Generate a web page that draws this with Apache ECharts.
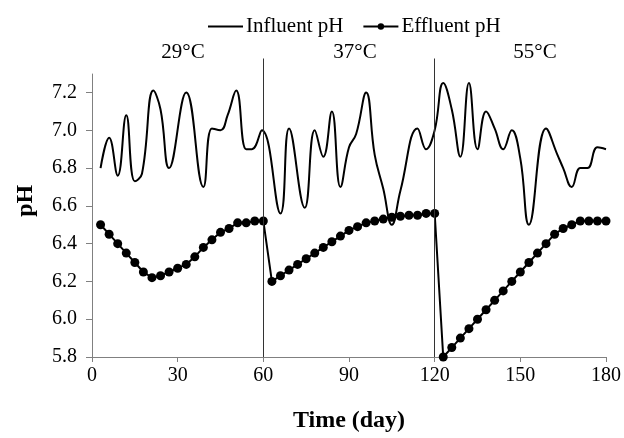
<!DOCTYPE html>
<html><head><meta charset="utf-8">
<script src="https://cdn.jsdelivr.net/npm/echarts@6/dist/echarts.min.js"></script>
<style>html,body{margin:0;padding:0;background:#fff}#c{width:624px;height:438px}</style>
</head><body><div id="c"></div>
<script>
const seriesNames = ['Influent pH', 'Effluent pH'];
const periodLabels = ['29\u00b0C', '37\u00b0C', '55\u00b0C'];
const xTicks = [0, 30, 60, 90, 120, 150, 180];
const yTicks = [5.8, 6.0, 6.2, 6.4, 6.6, 6.8, 7.0, 7.2];
const dividerDays = [60, 120];

const influentDays = [3, 6, 9, 12, 15, 17.5, 21.5, 24, 27, 33, 39, 42, 45, 47.5, 50.5, 54, 56, 59.5,
  66, 69, 74.5, 78, 81, 84, 87, 90, 92.5, 96, 99, 102, 105, 108, 114, 117, 120,
  123, 126, 129, 132, 135, 138, 141, 144, 147, 150, 153, 159, 163, 165, 168, 171, 173.5, 177, 180];
const influentPH = [6.80, 6.96, 6.76, 7.08, 6.73, 6.77, 7.21, 7.11, 6.80, 7.20, 6.70, 7.01, 7.00, 7.08, 7.21, 6.90, 6.90, 7.00,
  6.56, 7.01, 6.59, 7.00, 6.86, 7.10, 6.70, 6.91, 6.98, 7.20, 6.87, 6.69, 6.50, 6.68, 7.01, 6.90, 7.00,
  7.25, 7.11, 6.86, 7.25, 6.90, 7.10, 7.01, 6.90, 7.00, 6.85, 6.50, 7.01, 6.87, 6.80, 6.70, 6.80, 6.80, 6.91, 6.90];

const effluentDays = [3, 6, 9, 12, 15, 18, 21, 24, 27, 30, 33, 36, 39, 42, 45, 48, 51, 54, 57, 60,
  63, 66, 69, 72, 75, 78, 81, 84, 87, 90, 93, 96, 99, 102, 105, 108, 111, 114, 117, 120,
  123, 126, 129, 132, 135, 138, 141, 144, 147, 150, 153, 156, 159, 162, 165, 168, 171, 174, 177, 180];
const effluentPH = [6.50, 6.45, 6.40, 6.35, 6.30, 6.25, 6.22, 6.23, 6.25, 6.27, 6.29, 6.33, 6.38, 6.42, 6.46, 6.48, 6.51, 6.51, 6.52, 6.52,
  6.20, 6.23, 6.26, 6.29, 6.32, 6.35, 6.38, 6.41, 6.44, 6.47, 6.49, 6.51, 6.52, 6.53, 6.54, 6.545, 6.55, 6.55, 6.56, 6.56,
  5.80, 5.85, 5.90, 5.95, 6.00, 6.05, 6.10, 6.15, 6.20, 6.25, 6.30, 6.35, 6.40, 6.45, 6.48, 6.50, 6.52, 6.52, 6.52, 6.52];

const FONT = 'Liberation Serif';
const chart = echarts.init(document.getElementById('c'), null, {renderer: 'canvas'});
const labelX = [183, 355, 535];

chart.setOption({
  animation: false,
  backgroundColor: '#fff',
  grid: {left: 92, right: 18, top: 58.5, bottom: 76},
  legend: {
    data: [{name: seriesNames[0], itemStyle: {opacity: 0}}, {name: seriesNames[1]}],
    left: 202, top: 11, itemWidth: 35, itemHeight: 8, itemGap: 19,
    textStyle: {fontFamily: FONT, fontSize: 21, color: '#000', padding: [0, 0, 0, -2]}
  },
  graphic: periodLabels.map((t, i) => ({
    type: 'text', x: labelX[i], y: 52.5,
    style: {text: t, fontFamily: FONT, fontSize: 21, fill: '#000', align: 'center', verticalAlign: 'middle'}
  })),
  xAxis: {
    type: 'value', min: 0, max: 180, interval: 30,
    name: 'Time (day)', nameLocation: 'middle', nameGap: 52,
    nameTextStyle: {fontFamily: FONT, fontSize: 24, fontWeight: 'bold', color: '#000'},
    axisLine: {show: true, lineStyle: {color: '#808080', width: 1}},
    axisTick: {show: true, length: 5, lineStyle: {color: '#808080'}},
    axisLabel: {fontFamily: FONT, fontSize: 20, color: '#000', margin: 9},
    splitLine: {show: false}
  },
  yAxis: {
    type: 'value', min: 5.8, max: 7.38,
    name: 'pH', nameLocation: 'middle', nameGap: 54,
    nameTextStyle: {fontFamily: FONT, fontSize: 24, fontWeight: 'bold', color: '#000', padding: [0, 0, 0, 14]},
    axisLine: {show: false},
    axisTick: {show: true, length: 6, customValues: yTicks, lineStyle: {color: '#808080'}},
    axisLabel: {customValues: yTicks, fontFamily: FONT, fontSize: 20, color: '#000', margin: 15,
      formatter: v => Number(v).toFixed(1)},
    splitLine: {show: false}
  },
  series: [
    {
      name: seriesNames[0], type: 'line', symbol: 'none', smooth: 0.45,
      lineStyle: {color: '#000', width: 2}, itemStyle: {color: '#000'},
      data: influentDays.map((d, i) => [d, influentPH[i]]),
      z: 3,
      markLine: {
        silent: true, symbol: 'none', label: {show: false},
        lineStyle: {color: '#333', width: 1, type: 'solid'},
        data: [
          [{coord: [0, 5.8], lineStyle: {color: '#808080'}}, {coord: [0, 7.3]}],
          ...dividerDays.map(d => ({xAxis: d}))
        ]
      }
    },
    {
      name: seriesNames[1], type: 'line', symbol: 'circle', symbolSize: 9,
      lineStyle: {color: '#000', width: 2}, itemStyle: {color: '#000'},
      data: effluentDays.map((d, i) => [d, effluentPH[i]]),
      z: 4
    }
  ]
});
</script></body></html>
